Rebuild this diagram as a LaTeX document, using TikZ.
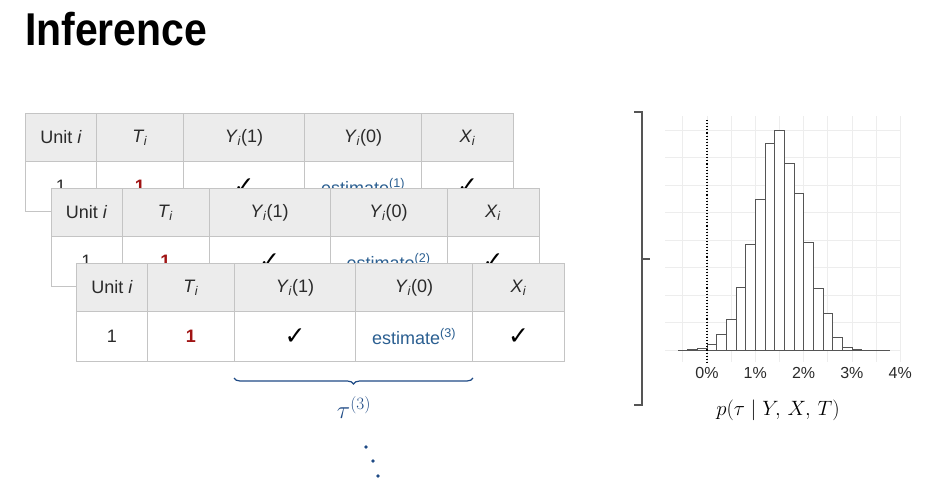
\documentclass[tikz,border=0pt]{standalone}
\usepackage{fontspec}
\setmainfont{Liberation Sans}
\newfontfamily\dejavu{DejaVu Sans}
\usetikzlibrary{decorations.pathreplacing}
\definecolor{tgray}{HTML}{C4C4C4}
\definecolor{thead}{HTML}{ECECEC}
\definecolor{ttext}{HTML}{2A2A2A}
\definecolor{tred}{HTML}{A01414}
\definecolor{tblue}{HTML}{2B5F91}
\definecolor{bblue}{HTML}{1E4A85}
\definecolor{hgray}{HTML}{555555}
\newcommand{\tsub}[1]{\textit{#1}\textsubscript{\kern-0.5pt\textit{i}}}
\newcommand{\chk}{{\dejavu\bfseries\fontsize{25}{26}\selectfont\color{black}✓}}
\tikzset{
	cell/.style={draw=tgray, line width=1pt, rectangle, anchor=north west, inner sep=0pt, text=ttext, font=\fontsize{18}{20}\selectfont},
	headcell/.style={cell, fill=thead, minimum height=48},
	bodycell/.style={cell, fill=white, minimum height=50},
	bar/.style={draw=hgray, fill=white, line width=0.8pt},
	ticklab/.style={font=\fontsize{16}{18}\selectfont, text=ttext}
}
% one layer of the table: #1,#2 top left corner, #3 draw number
\newcommand{\unittable}[3]{%
	\foreach \c/\xo/\w/\head/\body in {a/0/71/{Unit \textit{i}}/1,b/71/87/{\tsub{T}}/{\textcolor{tred}{\textbf{1}}},c/158/121/{\tsub{Y}(1)}/\chk,d/279/117/{\tsub{Y}(0)}/{\textcolor{tblue}{estimate\textsuperscript{(#3)}}},e/396/92/{\tsub{X}}/\chk}{
		\node[headcell, minimum width=\w] (t#3h\c) at (#1+\xo, #2) {\head};
		\node[bodycell, minimum width=\w] (t#3b\c) at (#1+\xo, #2+48) {\body};
	}}

\begin{document}
\begin{tikzpicture}[x=1pt, y=-1pt]
	\useasboundingbox (0,0) rectangle (936,498);
	\node[anchor=base west, inner sep=0pt, font=\bfseries\fontsize{46}{50}\selectfont] (title) at (25,45) {\scalebox{0.89}[1]{Inference}};
	%
	\unittable{25}{113}{1}
	\unittable{50.5}{188}{2}
	\unittable{76}{263}{3}
	\draw[bblue, line width=1.2pt, decorate, decoration={brace, mirror, amplitude=6pt}] ([yshift=-16pt]t3bc.south west) -- ([yshift=-16pt]t3bd.south east);
	\node[text=bblue, font=\fontsize{25}{27}\selectfont] (tau) at (354,408) {$\tau^{(3)}$};
	\foreach \px/\py in {366/447,373/461,378/476}
		\fill[bblue] (\px,\py) circle (1.8);
	%
	\draw[hgray, line width=1.3pt] (634,112) -- (642,112) -- (642,405) -- (634,405);
	\draw[hgray, line width=1.3pt] (642,259) -- (650,259);
	% histogram
	\foreach \k in {-1,...,8}
		\draw[gray!14, line width=0.8pt] (707+\k*24.15,116) -- (707+\k*24.15,362);
	\foreach \k in {0,...,8}
		\draw[gray!14, line width=0.8pt] (665,130+\k*27.5) -- (900,130+\k*27.5);
	\draw[hgray, line width=0.8pt] (678,350) -- (890,350);
	\foreach \b/\h in {-0.4/1,-0.2/2,0/6,0.2/16,0.4/31,0.6/63,0.8/106,1/151,1.2/207,1.4/220,1.6/187,1.8/157,2/108,2.2/62,2.4/37,2.6/13,2.8/3,3/1}
		\draw[bar] (707+\b*48.3,350) rectangle ++(9.66,-\h);
	\draw[black, dotted, line width=1.1pt] (707,120) -- (707,363);
	\foreach \p in {0,...,4}
		\node[ticklab] (tick\p) at (707+\p*48.3,373) {\p\%};
	\node[font=\fontsize{21.5}{24}\selectfont] (post) at (778,410) {$p(\tau \mid Y,\, X,\, T)$};
\end{tikzpicture}
\end{document}
